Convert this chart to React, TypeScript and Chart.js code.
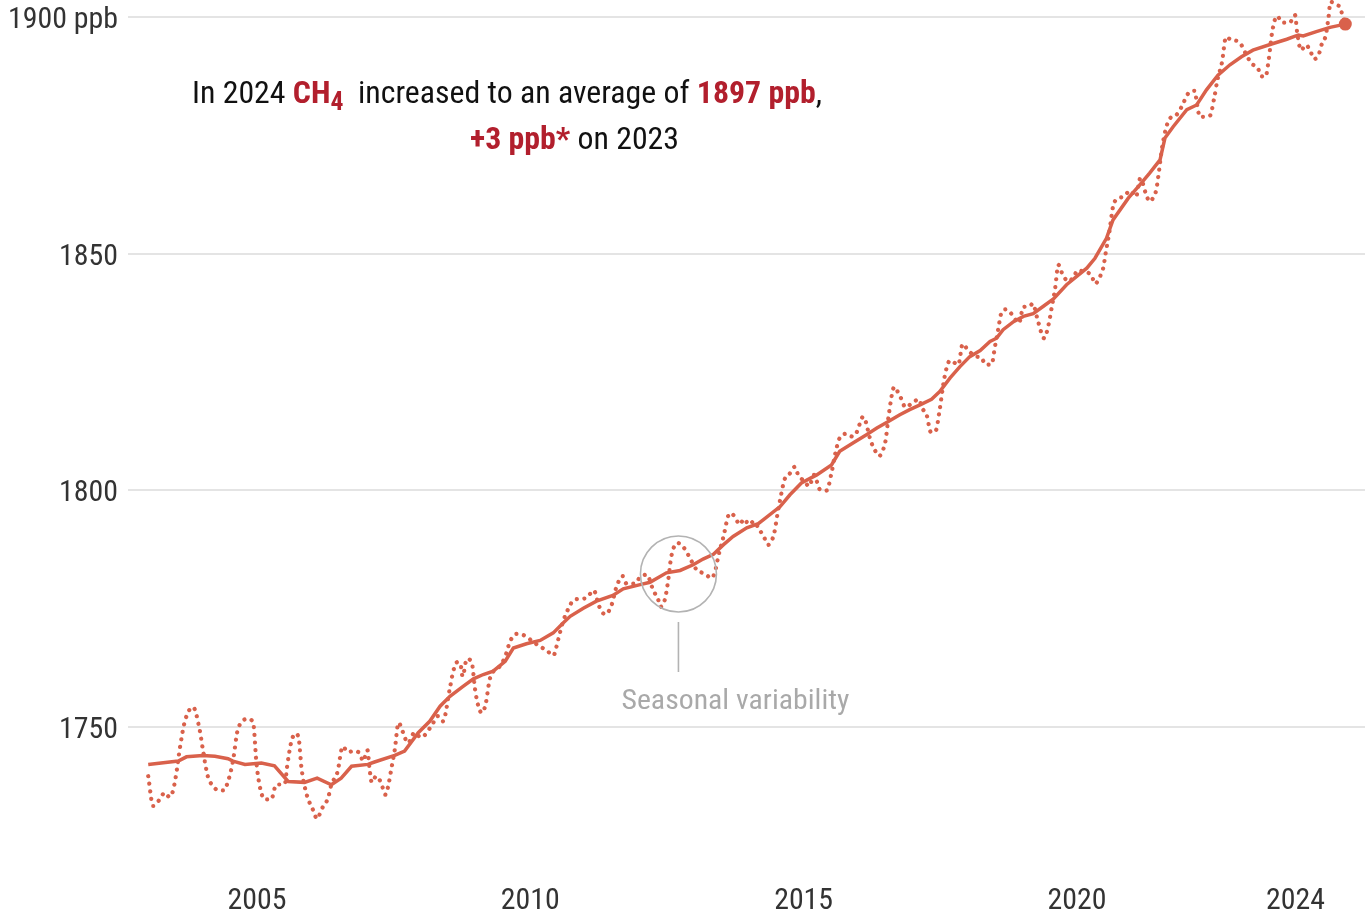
import React, { useEffect, useRef } from "react";
import { Chart, registerables } from "chart.js";

Chart.register(...registerables);

// Smoothed trend (ppb)
const trendYears = [
  2003.01, 2003.56, 2003.71, 2004.01, 2004.23, 2004.47, 2004.56, 2004.78, 2005.08, 2005.32,
  2005.57, 2005.87, 2006.10, 2006.36, 2006.54, 2006.73, 2007.03, 2007.15, 2007.52, 2007.70,
  2007.95, 2008.16, 2008.35, 2008.53, 2008.77, 2008.96, 2009.14, 2009.32, 2009.54, 2009.69,
  2009.93, 2010.18, 2010.42, 2010.60, 2010.73, 2010.97, 2011.21, 2011.51, 2011.70, 2012.01,
  2012.19, 2012.49, 2012.74, 2012.98, 2013.16, 2013.35, 2013.53, 2013.71, 2013.96, 2014.17,
  2014.26, 2014.57, 2014.75, 2014.96, 2015.24, 2015.51, 2015.66, 2015.91, 2016.15, 2016.34,
  2016.55, 2016.76, 2016.94, 2017.13, 2017.34, 2017.49, 2017.68, 2017.86, 2018.04, 2018.23,
  2018.41, 2018.53, 2018.65, 2018.84, 2019.02, 2019.20, 2019.38, 2019.57, 2019.81, 2020.18,
  2020.33, 2020.54, 2020.66, 2020.94, 2021.15, 2021.33, 2021.52, 2021.61, 2021.76, 2022.01,
  2022.19, 2022.37, 2022.58, 2022.80, 2023.01, 2023.22, 2023.59, 2023.84, 2024.05, 2024.14,
  2024.38, 2024.63, 2024.91,
];
const trendPpb = [
  1742.0, 1742.7, 1743.6, 1743.9, 1743.7, 1743.2, 1742.7, 1742.0, 1742.3, 1741.7,
  1738.4, 1738.2, 1739.1, 1737.7, 1739.1, 1741.6, 1742.0, 1742.5, 1743.9, 1744.8,
  1748.7, 1751.1, 1754.3, 1756.4, 1758.5, 1760.1, 1761.0, 1761.7, 1763.8, 1766.6,
  1767.5, 1768.2, 1769.8, 1771.9, 1773.3, 1775.0, 1776.5, 1777.7, 1779.1, 1780.0,
  1780.5, 1782.5, 1783.0, 1784.2, 1785.4, 1786.4, 1788.4, 1790.2, 1792.0, 1792.9,
  1793.7, 1796.5, 1799.0, 1801.5, 1803.2, 1805.3, 1808.2, 1810.0, 1811.7, 1813.1,
  1814.5, 1815.9, 1817.0, 1818.0, 1819.2, 1820.8, 1823.7, 1826.1, 1828.2, 1829.5,
  1831.4, 1832.1, 1833.9, 1835.6, 1836.7, 1837.3, 1838.8, 1840.4, 1843.4, 1846.9,
  1849.0, 1853.2, 1857.1, 1861.7, 1864.5, 1867.0, 1869.8, 1874.4, 1876.8, 1880.4,
  1881.4, 1884.6, 1887.7, 1889.9, 1891.6, 1893.0, 1894.4, 1895.3, 1896.2, 1896.0,
  1896.9, 1897.8, 1898.5,
];

// Monthly values with seasonal variability (ppb)
const monthlyYears = [
  2003.01, 2003.10, 2003.22, 2003.31, 2003.40, 2003.46, 2003.52, 2003.59, 2003.68, 2003.83,
  2003.95, 2004.01, 2004.10, 2004.20, 2004.29, 2004.39, 2004.47, 2004.56, 2004.65, 2004.84,
  2004.93, 2004.99, 2005.05, 2005.14, 2005.26, 2005.35, 2005.51, 2005.55, 2005.63, 2005.71,
  2005.77, 2005.81, 2005.91, 2006.02, 2006.10, 2006.18, 2006.30, 2006.36, 2006.47, 2006.57,
  2006.66, 2006.76, 2006.88, 2006.94, 2007.02, 2007.06, 2007.10, 2007.18, 2007.27, 2007.35,
  2007.40, 2007.46, 2007.52, 2007.59, 2007.67, 2007.76, 2007.88, 2008.00, 2008.19, 2008.31,
  2008.40, 2008.53, 2008.59, 2008.66, 2008.73, 2008.76, 2008.84, 2008.93, 2008.99, 2009.05,
  2009.11, 2009.18, 2009.26, 2009.35, 2009.44, 2009.54, 2009.63, 2009.75, 2009.90, 2010.02,
  2010.15, 2010.30, 2010.42, 2010.51, 2010.59, 2010.70, 2010.79, 2010.92, 2011.03, 2011.16,
  2011.26, 2011.37, 2011.49, 2011.57, 2011.69, 2011.76, 2011.91, 2012.01, 2012.13, 2012.25,
  2012.34, 2012.38, 2012.46, 2012.52, 2012.58, 2012.70, 2012.83, 2012.92, 2013.04, 2013.19,
  2013.32, 2013.38, 2013.44, 2013.53, 2013.65, 2013.74, 2013.83, 2013.91, 2014.00, 2014.09,
  2014.18, 2014.27, 2014.35, 2014.46, 2014.52, 2014.58, 2014.65, 2014.74, 2014.84, 2014.90,
  2015.02, 2015.10, 2015.19, 2015.30, 2015.42, 2015.51, 2015.57, 2015.66, 2015.80, 2015.89,
  2015.97, 2016.09, 2016.23, 2016.30, 2016.38, 2016.46, 2016.50, 2016.56, 2016.66, 2016.72,
  2016.79, 2016.86, 2016.99, 2017.11, 2017.17, 2017.25, 2017.33, 2017.42, 2017.48, 2017.58,
  2017.68, 2017.83, 2017.91, 2018.01, 2018.17, 2018.25, 2018.33, 2018.44, 2018.50, 2018.56,
  2018.62, 2018.71, 2018.82, 2018.94, 2019.02, 2019.13, 2019.19, 2019.29, 2019.40, 2019.48,
  2019.54, 2019.60, 2019.66, 2019.74, 2019.85, 2019.94, 2020.02, 2020.11, 2020.27, 2020.33,
  2020.42, 2020.48, 2020.53, 2020.59, 2020.66, 2020.73, 2020.85, 2020.98, 2021.08, 2021.16,
  2021.26, 2021.33, 2021.39, 2021.45, 2021.50, 2021.56, 2021.63, 2021.69, 2021.82, 2021.91,
  2022.04, 2022.16, 2022.19, 2022.25, 2022.43, 2022.51, 2022.57, 2022.65, 2022.73, 2022.83,
  2022.96, 2023.10, 2023.19, 2023.31, 2023.37, 2023.45, 2023.51, 2023.57, 2023.66, 2023.76,
  2023.89, 2023.99, 2024.03, 2024.10, 2024.19, 2024.28, 2024.34, 2024.43, 2024.48, 2024.55,
  2024.60, 2024.64, 2024.76, 2024.82, 2024.86, 2024.91,
];
const monthlyPpb = [
  1739.5, 1733.2, 1734.6, 1736.0, 1735.1, 1736.3, 1739.8, 1745.5, 1751.1, 1754.1,
  1749.4, 1745.1, 1739.5, 1737.4, 1736.5, 1736.5, 1738.4, 1742.7, 1749.4, 1751.6,
  1750.8, 1742.3, 1737.4, 1734.6, 1734.6, 1737.7, 1737.9, 1741.5, 1746.9, 1748.5,
  1746.9, 1741.6, 1735.6, 1732.5, 1730.5, 1732.5, 1734.9, 1737.7, 1740.3, 1745.8,
  1744.6, 1744.8, 1744.4, 1742.7, 1745.0, 1741.0, 1738.2, 1739.5, 1738.1, 1735.6,
  1737.4, 1741.2, 1745.1, 1750.8, 1748.8, 1746.5, 1748.7, 1747.7, 1750.1, 1752.2,
  1751.1, 1758.2, 1761.7, 1763.6, 1762.8, 1760.6, 1764.3, 1763.5, 1757.8, 1754.3,
  1752.9, 1754.6, 1760.1, 1762.0, 1762.7, 1764.8, 1768.0, 1769.6, 1769.2, 1768.2,
  1767.1, 1766.1, 1765.0, 1768.4, 1771.9, 1775.0, 1776.7, 1777.0, 1777.2, 1778.8,
  1775.4, 1773.7, 1775.8, 1779.3, 1781.8, 1780.2, 1780.2, 1781.6, 1782.1, 1778.8,
  1776.8, 1775.3, 1776.8, 1780.7, 1786.0, 1788.8, 1787.5, 1785.6, 1783.2, 1782.3,
  1781.4, 1782.8, 1786.0, 1790.0, 1795.1, 1794.4, 1792.7, 1793.9, 1792.7, 1793.4,
  1791.8, 1790.2, 1788.4, 1790.8, 1794.8, 1798.5, 1802.2, 1803.4, 1804.9, 1803.2,
  1801.8, 1800.8, 1803.2, 1800.1, 1799.9, 1803.6, 1807.2, 1811.0, 1811.9, 1811.3,
  1812.2, 1815.5, 1810.3, 1808.5, 1807.2, 1808.7, 1810.5, 1816.1, 1821.8, 1820.8,
  1819.2, 1817.5, 1818.4, 1819.2, 1817.3, 1815.9, 1812.2, 1812.6, 1816.3, 1824.0,
  1827.4, 1826.5, 1830.9, 1829.5, 1828.2, 1828.0, 1826.5, 1826.6, 1830.3, 1834.0,
  1837.5, 1838.2, 1837.0, 1835.3, 1838.7, 1838.8, 1839.4, 1835.6, 1832.1, 1834.9,
  1838.7, 1842.5, 1847.6, 1845.5, 1844.1, 1845.1, 1846.5, 1846.2, 1845.3, 1843.6,
  1845.1, 1846.9, 1850.4, 1854.3, 1859.9, 1861.5, 1862.0, 1863.3, 1862.0, 1865.9,
  1862.7, 1861.0, 1861.7, 1863.4, 1867.3, 1872.6, 1876.5, 1878.4, 1879.3, 1880.9,
  1883.9, 1884.4, 1882.1, 1878.9, 1879.1, 1882.8, 1886.7, 1890.2, 1895.8, 1895.1,
  1894.8, 1892.0, 1890.2, 1889.2, 1887.5, 1887.4, 1891.1, 1896.7, 1900.2, 1898.8,
  1898.8, 1900.4, 1896.6, 1893.0, 1894.1, 1892.5, 1891.1, 1892.3, 1894.3, 1896.0,
  1899.7, 1903.2, 1902.5, 1902.0, 1900.1, 1898.7,
];

const xTickYears = [2005, 2010, 2015, 2020, 2024];
const yTickValues = [1750, 1800, 1850, 1900];
const yTickUnit = "ppb";

const annotationYear = 2012.71;
const annotationPpb = 1782.25;
const annotationLabel = "Seasonal variability";

const LINE_COLOR = "#d9614b";
const RED = "#b21f2d";
const TEXT = "#333333";
const GREY = "#a9a9a9";
const FONT = "'Roboto Condensed', Roboto, sans-serif";

type Seg = { text: string; font: string; color: string; dy?: number };

function drawSegments(ctx: CanvasRenderingContext2D, segs: Seg[], left: number, baseline: number, targetWidth: number) {
  let total = 0;
  const widths = segs.map((s) => {
    ctx.font = s.font;
    const w = ctx.measureText(s.text).width;
    total += w;
    return w;
  });
  const k = targetWidth / total;
  ctx.save();
  ctx.translate(left, baseline);
  ctx.scale(k, 1);
  ctx.textAlign = "left";
  ctx.textBaseline = "alphabetic";
  let cx = 0;
  segs.forEach((s, i) => {
    ctx.font = s.font;
    ctx.fillStyle = s.color;
    ctx.fillText(s.text, cx, s.dy || 0);
    cx += widths[i];
  });
  ctx.restore();
}

export default function App() {
  const ref = useRef<HTMLCanvasElement>(null);

  useEffect(() => {
    if (!ref.current) return;
    const trend = trendYears.map((x, i) => ({ x, y: trendPpb[i] }));
    const monthly = monthlyYears.map((x, i) => ({ x, y: monthlyPpb[i] }));

    const textPlugin = {
      id: "textPlugin",
      afterDraw(chart: any) {
        const ctx: CanvasRenderingContext2D = chart.ctx;
        const xs = chart.scales.x;
        const ys = chart.scales.y;
        ctx.save();

        // axis labels (condensed look)
        const axisFont = `30px ${FONT}`;
        ctx.font = axisFont;
        const k = 110 / ctx.measureText(`1900 ${yTickUnit}`).width;
        ctx.fillStyle = TEXT;
        ctx.textBaseline = "alphabetic";
        yTickValues.forEach((v, i) => {
          const label = i === yTickValues.length - 1 ? `${v} ${yTickUnit}` : `${v}`;
          const py = ys.getPixelForValue(v);
          ctx.save();
          ctx.translate(118, py + 11);
          ctx.scale(k, 1);
          ctx.textAlign = "right";
          ctx.fillText(label, 0, 0);
          ctx.restore();
        });
        xTickYears.forEach((v) => {
          const px = xs.getPixelForValue(v);
          ctx.save();
          ctx.translate(px, 909);
          ctx.scale(k, 1);
          ctx.textAlign = "center";
          ctx.fillText(String(v), 0, 0);
          ctx.restore();
        });

        // title
        const reg = `31px ${FONT}`;
        const bold = `bold 31px ${FONT}`;
        const sub = `bold 25px ${FONT}`;
        drawSegments(
          ctx,
          [
            { text: "In 2024 ", font: reg, color: "#111" },
            { text: "CH", font: bold, color: RED },
            { text: "4", font: sub, color: RED, dy: 7 },
            { text: "  increased to an average of ", font: reg, color: "#111" },
            { text: "1897 ppb", font: bold, color: RED },
            { text: ",", font: reg, color: "#111" },
          ],
          192,
          103,
          630
        );
        drawSegments(
          ctx,
          [
            { text: "+3 ppb*", font: bold, color: RED },
            { text: " on 2023", font: reg, color: "#111" },
          ],
          470,
          149,
          209
        );

        // annotation
        const cxp = xs.getPixelForValue(annotationYear);
        const cyp = ys.getPixelForValue(annotationPpb);
        ctx.strokeStyle = "#b3b3b3";
        ctx.lineWidth = 1.6;
        ctx.beginPath();
        ctx.arc(cxp, cyp, 38, 0, Math.PI * 2);
        ctx.stroke();
        ctx.beginPath();
        ctx.moveTo(cxp, cyp + 48);
        ctx.lineTo(cxp, cyp + 98);
        ctx.stroke();
        drawSegments(ctx, [{ text: annotationLabel, font: `28px ${FONT}`, color: GREY }], cxp - 57, 709, 228);

        ctx.restore();
      },
    };

    const chart = new Chart(ref.current, {
      type: "line",
      data: {
        datasets: [
          {
            data: trend,
            borderColor: LINE_COLOR,
            backgroundColor: LINE_COLOR,
            borderWidth: 3.5,
            tension: 0,
            pointRadius: trend.map((_, i) => (i === trend.length - 1 ? 6.5 : 0)),
            pointBackgroundColor: LINE_COLOR,
            pointBorderWidth: 0,
            clip: false,
            order: 0,
          } as any,
          {
            data: monthly,
            borderColor: LINE_COLOR,
            borderWidth: 4.2,
            borderDash: [0.01, 7.6],
            borderCapStyle: "round",
            cubicInterpolationMode: "monotone",
            tension: 0.4,
            pointRadius: 0,
            clip: false,
            order: 1,
          } as any,
        ],
      },
      options: {
        animation: false,
        responsive: false,
        events: [],
        layout: { autoPadding: false, padding: { top: 17, left: 0, right: 0, bottom: 0 } },
        plugins: { legend: { display: false }, tooltip: { enabled: false } },
        scales: {
          x: {
            type: "linear",
            min: 2002.64,
            max: 2025.27,
            grid: { display: false },
            border: { display: false },
            ticks: { display: false },
            afterBuildTicks: (s: any) => {
              s.ticks = xTickYears.map((v) => ({ value: v }));
            },
            afterFit: (s: any) => {
              s.height = 56;
            },
          },
          y: {
            type: "linear",
            min: 1722,
            max: 1900,
            grid: { color: "#e4e4e4", lineWidth: 2, drawTicks: false },
            border: { display: false },
            ticks: { display: false },
            afterBuildTicks: (s: any) => {
              s.ticks = yTickValues.map((v) => ({ value: v }));
            },
            afterFit: (s: any) => {
              s.width = 128;
            },
          },
        },
      } as any,
      plugins: [textPlugin],
    });
    return () => chart.destroy();
  }, []);

  return (
    <div style={{ position: "fixed", left: 0, top: 0, width: 1365, height: 915, background: "#fff" }}>
      <canvas ref={ref} width={1365} height={915} style={{ display: "block", width: 1365, height: 915 }} />
    </div>
  );
}
